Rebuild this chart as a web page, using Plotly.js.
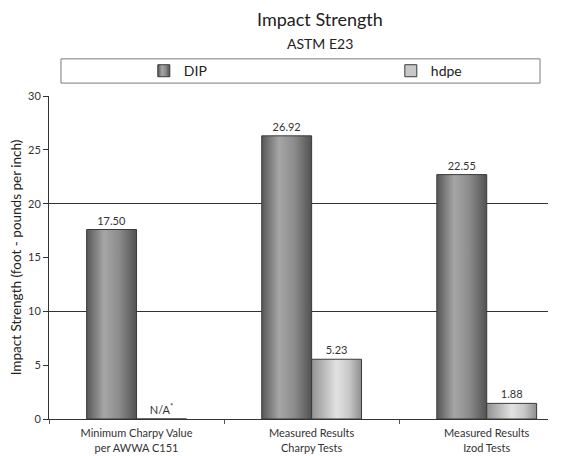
<!DOCTYPE html>
<html>
<head>
<meta charset="utf-8">
<script src="https://cdn.plot.ly/plotly-3.0.1.min.js"></script>
<style>
  html, body { margin: 0; padding: 0; background: #fff; }
  #chart { width: 574px; height: 456px; }
</style>
</head>
<body>
<div id="chart"></div>
<script>
// ---- data ----
const categories = [
  "Minimum Charpy Value<br>per AWWA C151",
  "Measured Results<br>Charpy Tests",
  "Measured Results<br>Izod Tests"
];
// bar heights as drawn in the picture
const dipValues  = [17.6, 26.3, 22.7];
const hdpeValues = [0, 5.55, 1.45];
// data labels as printed in the picture
const dipLabels  = ["17.50", "26.92", "22.55"];
const hdpeLabels = ["N/A<sup>*</sup>", "5.23", "1.88"];
const yTicks = [0, 5, 10, 15, 20, 25, 30];

const FONT = "Lato, 'Open Sans', sans-serif";
const TXT = "#333";

const traces = [
  {
    type: "bar", name: "DIP", x: categories, y: dipValues, yaxis: "y",
    alignmentgroup: "g", offsetgroup: "dip", legend: "legend",
    text: dipLabels, textposition: "outside", cliponaxis: false,
    textfont: {family: FONT, size: 11, color: TXT},
    marker: {color: "#8a8a8a", line: {color: "#3a3a3a", width: 1}},
    hoverinfo: "none"
  },
  {
    type: "bar", name: "hdpe", x: categories, y: hdpeValues, yaxis: "y2",
    alignmentgroup: "g", offsetgroup: "hdpe", legend: "legend2",
    text: hdpeLabels, textposition: "outside", cliponaxis: false,
    textfont: {family: FONT, size: 11, color: TXT},
    marker: {color: "#c8c8c8", line: {color: "#3a3a3a", width: 1}},
    hoverinfo: "none"
  }
];

const legendBase = {
  orientation: "h", xanchor: "left", y: 1.077, yanchor: "middle",
  bgcolor: "rgba(0,0,0,0)", borderwidth: 0,
  font: {family: FONT, size: 14, color: "#222"}
};

const layout = {
  width: 574, height: 456,
  margin: {l: 49, r: 26, t: 96, b: 37},
  paper_bgcolor: "#fff", plot_bgcolor: "rgba(0,0,0,0)",
  font: {family: FONT, color: TXT},
  barmode: "group", bargap: 0.43, bargroupgap: 0,
  showlegend: true,
  legend: Object.assign({}, legendBase, {x: 0.19}),
  legend2: Object.assign({}, legendBase, {x: 0.685}),
  xaxis: {
    type: "category", range: [-0.5, 2.35],
    showline: true, linecolor: "#333", linewidth: 1,
    ticks: "outside", tickson: "boundaries", ticklen: 4, tickcolor: "#555",
    tickfont: {family: FONT, size: 11, color: TXT}, ticklabelstandoff: 4,
    showgrid: false, zeroline: false, fixedrange: true
  },
  // grid axis (lines every 10)
  yaxis: {
    range: [0, 30], dtick: 10, tick0: 0,
    showgrid: true, gridcolor: "#333", gridwidth: 1,
    showticklabels: false, ticks: "", showline: true, linecolor: "#333", linewidth: 1,
    zeroline: false
  },
  // labelled axis (ticks every 5)
  yaxis2: {
    range: [0, 30], overlaying: "y", side: "left",
    tickvals: yTicks, ticktext: yTicks.map(String),
    showline: false, ticks: "outside", ticklen: 5, tickcolor: "#333",
    tickfont: {family: FONT, size: 11, color: TXT},
    showgrid: false, zeroline: false,
    title: {text: "Impact Strength (foot - pounds per inch)", font: {family: FONT, size: 13.5, color: "#222"}, standoff: 3}
  },
  shapes: [
    {type: "rect", xref: "paper", yref: "paper", x0: 0.024, x1: 0.984, y0: 1.040, y1: 1.115,
     line: {color: "#7a7a7a", width: 1}, fillcolor: "rgba(0,0,0,0)", layer: "below"}
  ],
  annotations: [
    {text: "Impact Strength", xref: "paper", yref: "paper", x: 0.543, y: 1.238,
     xanchor: "center", yanchor: "middle", showarrow: false,
     font: {family: FONT, size: 18, color: "#222"}},
    {text: "ASTM E23", xref: "paper", yref: "paper", x: 0.543, y: 1.161,
     xanchor: "center", yanchor: "middle", showarrow: false,
     font: {family: FONT, size: 14, color: "#222"}}
  ]
};

Plotly.newPlot("chart", traces, layout, {staticPlot: true, displayModeBar: false}).then(function (gd) {
  const svg = gd.querySelector(".main-svg");
  const NS = "http://www.w3.org/2000/svg";
  const defs = document.createElementNS(NS, "defs");
  function grad(id, stops) {
    const g = document.createElementNS(NS, "linearGradient");
    g.setAttribute("id", id);
    g.setAttribute("x1", "0"); g.setAttribute("y1", "0");
    g.setAttribute("x2", "1"); g.setAttribute("y2", "0");
    stops.forEach(function (s) {
      const st = document.createElementNS(NS, "stop");
      st.setAttribute("offset", s[0]);
      st.setAttribute("stop-color", s[1]);
      g.appendChild(st);
    });
    defs.appendChild(g);
  }
  grad("gDIP", [["0%", "#575757"], ["35%", "#a6a6a6"], ["65%", "#8c8c8c"], ["100%", "#525252"]]);
  grad("gHDPE", [["0%", "#929292"], ["50%", "#e2e2e2"], ["75%", "#c8c8c8"], ["100%", "#8e8e8e"]]);
  svg.insertBefore(defs, svg.firstChild);
  const byName = {DIP: "gDIP", hdpe: "gHDPE"};
  gd.querySelectorAll(".barlayer .trace").forEach(function (t) {
    const d = t.__data__;
    const nm = d && d[0] && d[0].trace ? d[0].trace.name : null;
    const id = byName[nm];
    if (id) t.querySelectorAll(".point path").forEach(function (p) { p.style.fill = "url(#" + id + ")"; });
  });
  gd.querySelectorAll(".legend .traces").forEach(function (t) {
    const d = t.__data__;
    const nm = d && d[0] && d[0].trace ? d[0].trace.name : null;
    const id = byName[nm];
    if (id) t.querySelectorAll(".legendpoints path").forEach(function (p) { p.style.fill = "url(#" + id + ")"; });
  });
});
</script>
</body>
</html>
